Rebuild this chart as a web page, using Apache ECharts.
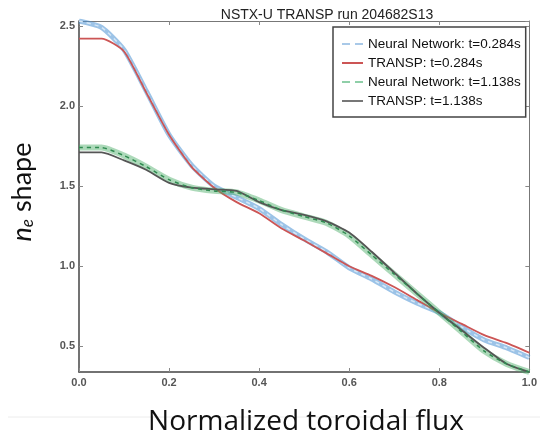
<!DOCTYPE html>
<html>
<head>
<meta charset="utf-8">
<script src="https://cdn.jsdelivr.net/npm/echarts@6/dist/echarts.min.js"></script>
<style>
  html, body { margin: 0; padding: 0; background: #fff; }
</style>
</head>
<body>
<div id="main" style="width: 540px;height:441px;"></div>
<script>
  // normalized toroidal flux
  var flux = [0, 0.05, 0.1, 0.15, 0.2, 0.25, 0.3, 0.35, 0.4, 0.45, 0.5,
    0.55, 0.6, 0.65, 0.7, 0.75, 0.8, 0.85, 0.9, 0.95, 1.0];
  var nnEarly = [2.53, 2.49, 2.35, 2.09, 1.82, 1.63, 1.50, 1.43, 1.36, 1.26, 1.17,
    1.09, 0.99, 0.92, 0.84, 0.77, 0.71, 0.62, 0.54, 0.49, 0.43];
  var transpEarly = [2.42, 2.42, 2.34, 2.08, 1.82, 1.62, 1.49, 1.40, 1.33, 1.235, 1.16,
    1.08, 1.00, 0.94, 0.87, 0.79, 0.71, 0.64, 0.57, 0.52, 0.46];
  var nnLate = [1.74, 1.74, 1.69, 1.62, 1.54, 1.49, 1.47, 1.46, 1.41, 1.35, 1.31,
    1.27, 1.19, 1.07, 0.95, 0.83, 0.71, 0.59, 0.47, 0.39, 0.34];
  var transpLate = [1.71, 1.71, 1.66, 1.60, 1.52, 1.49, 1.48, 1.47, 1.40, 1.35, 1.32,
    1.28, 1.21, 1.09, 0.96, 0.83, 0.71, 0.60, 0.49, 0.39, 0.34];
  var names = ['Neural Network: t=0.284s', 'TRANSP: t=0.284s',
    'Neural Network: t=1.138s', 'TRANSP: t=1.138s'];

  function pairs(ys) {
    return flux.map(function (x, i) { return [x, ys[i]]; });
  }
  function oneDec(v) { return v.toFixed(1); }

  var myChart = echarts.init(document.getElementById('main'));
  var tickLabel = { color: '#555', fontSize: 11, fontWeight: 'bold', fontFamily: 'Liberation Sans' };
  // legend icons: two short dashes / a plain bar
  var dashIcon = 'path://M0,0h8v2h-8z M13,0h8v2h-8z';
  var barIcon = 'path://M0,0h21v2h-21z';

  var option = {
    backgroundColor: '#fff',
    animation: false,
    title: {
      text: 'NSTX-U TRANSP run 204682S13',
      left: 322,
      top: 3,
      textAlign: 'center',
      textStyle: { fontSize: 14, fontWeight: 'normal', color: '#222', fontFamily: 'Liberation Sans' }
    },
    grid: { left: 79, right: 6, top: 21, bottom: 69 },
    legend: {
      orient: 'vertical',
      left: 333,
      top: 27,
      padding: [10, 5, 9, 9],
      itemGap: 5,
      itemWidth: 21,
      itemHeight: 2,
      borderColor: '#444',
      borderWidth: 1.5,
      backgroundColor: '#fff',
      textStyle: { fontSize: 13.5, color: '#111', fontFamily: 'Liberation Sans', lineHeight: 14 },
      data: [
        { name: names[0], icon: dashIcon, itemStyle: { color: '#a9c9e8' } },
        { name: names[1], icon: barIcon, itemStyle: { color: '#cc5555' } },
        { name: names[2], icon: dashIcon, itemStyle: { color: '#8fcfa8' } },
        { name: names[3], icon: barIcon, itemStyle: { color: '#777' } }
      ]
    },
    xAxis: [{
      type: 'value', min: 0, max: 1, interval: 0.2,
      axisLine: { lineStyle: { color: '#444', width: 1.5 } },
      axisTick: { inside: true, length: 4, lineStyle: { color: '#888' } },
      axisLabel: Object.assign({ formatter: oneDec, margin: 5 }, tickLabel),
      splitLine: { show: false }
    }, {
      type: 'value', min: 0, max: 1, interval: 0.2, position: 'top',
      axisLine: { onZero: false, lineStyle: { color: '#777', width: 1 } },
      axisTick: { inside: true, length: 4, lineStyle: { color: '#888' } },
      axisLabel: { show: false },
      splitLine: { show: false }
    }],
    yAxis: [{
      type: 'value', min: 0.34, max: 2.53, splitNumber: 5,
      axisLine: { show: true, lineStyle: { color: '#444', width: 1.5 } },
      axisTick: { show: true, inside: true, length: 4, lineStyle: { color: '#888' } },
      axisLabel: Object.assign({ formatter: oneDec, margin: 4, showMinLabel: false, showMaxLabel: false }, tickLabel),
      splitLine: { show: false }
    }, {
      type: 'value', min: 0.34, max: 2.53, splitNumber: 5, position: 'right',
      axisLine: { show: true, onZero: false, lineStyle: { color: '#777', width: 1 } },
      axisTick: { show: true, inside: true, length: 4, lineStyle: { color: '#888' } },
      axisLabel: { show: false },
      splitLine: { show: false }
    }],
    graphic: [{
      type: 'line',
      shape: { x1: 8, y1: 417, x2: 540, y2: 417 },
      style: { stroke: '#ececec', lineWidth: 1 },
      silent: true
    }, {
      type: 'text',
      x: 306, y: 422,
      style: {
        text: 'Normalized toroidal flux',
        fontFamily: 'Open Sans', fontSize: 28, fill: '#111',
        textAlign: 'center', textVerticalAlign: 'middle'
      }
    }, {
      type: 'text',
      x: 22, y: 192,
      rotation: Math.PI / 2,
      style: {
        text: '{n|n}{e|e}{s| shape}',
        textAlign: 'center', textVerticalAlign: 'middle',
        rich: {
          n: { fontFamily: 'Lato', fontSize: 27, fontStyle: 'italic', fill: '#111' },
          e: { fontFamily: 'Lato', fontSize: 17, fontStyle: 'italic', fill: '#111', verticalAlign: 'bottom', padding: [12, 0, 0, 0] },
          s: { fontFamily: 'Lato', fontSize: 27, fill: '#111' }
        }
      }
    }],
    series: [{
      name: 'band0', type: 'line', symbol: 'none', silent: true, smooth: 0.2,
      data: pairs(nnEarly),
      lineStyle: { color: 'rgba(75,145,212,0.55)', width: 5 }
    }, {
      name: names[0], type: 'line', symbol: 'none', smooth: 0.2,
      data: pairs(nnEarly),
      lineStyle: { color: '#d6e7f6', type: [4, 4], width: 1.5 }
    }, {
      name: names[1], type: 'line', symbol: 'none', smooth: 0.2,
      data: pairs(transpEarly),
      lineStyle: { color: '#cc5555', width: 1.8 }
    }, {
      name: 'band2', type: 'line', symbol: 'none', silent: true, smooth: 0.2,
      data: pairs(nnLate),
      lineStyle: { color: 'rgba(70,170,100,0.45)', width: 6 }
    }, {
      name: names[3], type: 'line', symbol: 'none', smooth: 0.2,
      data: pairs(transpLate),
      lineStyle: { color: '#555', width: 1.8 }
    }, {
      name: names[2], type: 'line', symbol: 'none', smooth: 0.2,
      data: pairs(nnLate),
      lineStyle: { color: '#2f8a50', type: [4, 4], width: 1.5 }
    }]
  };

  myChart.setOption(option);
</script>
</body>
</html>
